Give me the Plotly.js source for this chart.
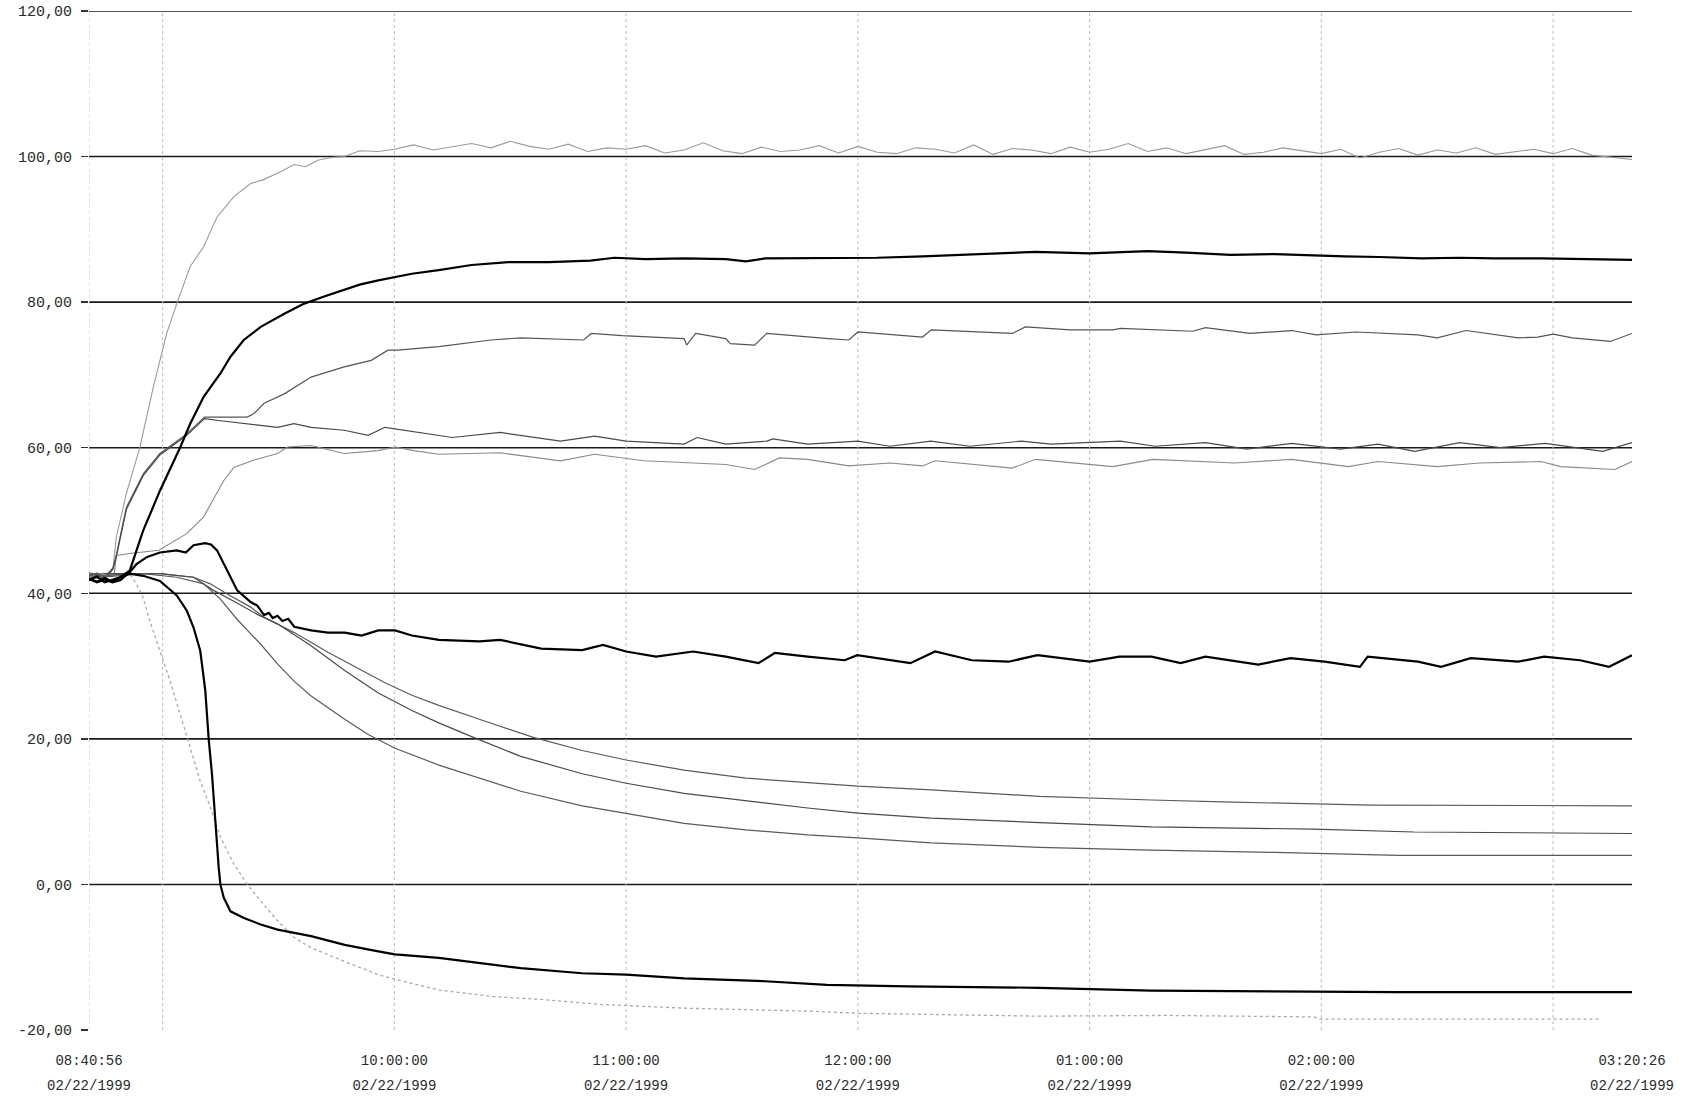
<!DOCTYPE html>
<html>
<head>
<meta charset="utf-8">
<script src="https://cdn.plot.ly/plotly-3.0.1.min.js"></script>
<style>html,body{margin:0;padding:0;background:#fff;}#chart{width:1699px;height:1099px;}</style>
</head>
<body>
<div id="chart"></div>
<script>
// ---------- DATA ----------
const day = "1999-02-22 ";
const xStart = "08:40:56";
const xEnd = "15:20:26";

const yTickVals = [-20, 0, 20, 40, 60, 80, 100, 120];
const yTickLabels = ["-20,00", "0,00", "20,00", "40,00", "60,00", "80,00", "100,00", "120,00"];
const hLineVals = [0, 20, 40, 60, 80, 100, 120];

const xTickTimes = ["08:40:56", "10:00", "11:00", "12:00", "13:00", "14:00", "15:20:26"];
const xTimeLabels = ["08:40:56", "10:00:00", "11:00:00", "12:00:00", "01:00:00", "02:00:00", "03:20:26"];
const xDateLabels = ["02/22/1999", "02/22/1999", "02/22/1999", "02/22/1999", "02/22/1999", "02/22/1999", "02/22/1999"];
const vLineTimes = ["08:40:56", "09:00", "10:00", "11:00", "12:00", "13:00", "14:00", "15:00"];

// A: light grey, settles near 100
const aTime = ["08:40:56","08:43","08:46","08:47:10","08:48","08:50:36","08:54:05","08:57:34","09:01:03","09:03:39","09:07:08","09:10:37","09:14:05","09:18:26","09:22:47","09:26","09:29:44","09:34:05","09:37","09:40:10","09:44","09:47:08","09:51","09:55:50",
"10:00","10:05","10:10","10:15","10:20","10:25","10:30","10:35","10:40","10:45","10:50","10:55",
"11:00","11:05","11:10","11:15","11:20","11:25","11:30","11:35","11:40","11:45","11:50","11:55",
"12:00","12:05","12:10","12:15","12:20","12:25","12:30","12:35","12:40","12:45","12:50","12:55",
"13:00","13:05","13:10","13:15","13:20","13:25","13:30","13:35","13:40","13:45","13:50","13:55",
"14:00","14:05","14:10","14:15","14:20","14:25","14:30","14:35","14:40","14:45","14:50","14:55",
"15:00","15:05","15:10","15:15","15:20:26"];
const aVal = [42.6,42.1,42.8,43.5,47.7,53.7,60.0,68.3,75.7,79.8,84.9,87.6,91.7,94.5,96.3,96.8,97.7,98.9,98.6,99.5,99.9,100.0,100.8,100.7,
101.0,101.6,100.9,101.3,101.8,101.2,102.1,101.4,101.0,101.7,100.7,101.2,
101.0,101.5,100.5,100.9,101.9,100.8,100.4,101.3,100.7,100.9,101.5,100.5,
101.4,100.6,100.4,101.2,101.0,100.5,101.6,100.3,101.1,100.9,100.4,101.3,
100.6,101.0,101.8,100.7,101.2,100.4,100.9,101.5,100.3,100.6,101.2,100.8,
100.4,101.0,99.8,100.6,101.1,100.2,100.9,100.5,101.2,100.3,100.7,101.0,
100.4,101.1,100.2,99.9,99.6];

// B: black, rises to ~86
const bTime = ["08:40:56","08:43","08:45","08:47","08:49","08:51:29","08:54:57","08:59:18","09:04:30","09:07:08","09:10:37","09:14:57","09:17:34","09:21","09:25:24","09:31:30","09:36:40","09:42","09:47:08","09:51","09:55:50","10:04:32","10:11:28","10:20","10:29:30","10:40","10:50:45","10:57","11:05","11:15","11:25:48","11:31","11:36","11:45","11:57:40","12:05","12:16:46","12:29:30","12:46","13:00","13:15","13:25","13:36:30","13:48","13:58:30","14:06","14:15","14:26","14:35:40","14:45","14:57","15:05","15:15","15:20:26"];
const bVal = [41.8,42.3,41.5,41.9,42.2,43.1,48.6,54.1,60.0,63.3,67.0,70.2,72.5,74.8,76.6,78.4,79.8,80.8,81.7,82.4,83.0,83.9,84.4,85.1,85.5,85.5,85.7,86.1,85.9,86.0,85.9,85.6,86.0,86.0,86.0,86.1,86.3,86.6,86.9,86.7,87.0,86.8,86.5,86.6,86.4,86.3,86.2,86.0,86.1,86.0,86.0,85.9,85.8,85.8];

// C: grey, rises to ~75
const cTime = ["08:40:56","08:43","08:45","08:47:09","08:48","08:50:36","08:55","08:59:18","09:06:15","09:10:50","09:21:55","09:23:40","09:26:16","09:31:30","09:38:26","09:47","09:54","09:58:20","10:00:51","10:11:30","10:25","10:32:43","10:49","10:51","10:59","11:15","11:15:40","11:18","11:25:48","11:27","11:33:15","11:36:25","11:52:20","11:57:40","12:00","12:16:46","12:19","12:40","12:43:20","12:55","13:06","13:08","13:26:45","13:30","13:41:30","13:52:20","13:58:40","14:09","14:25","14:30","14:37:30","14:51","14:56","15:00","15:05","15:14:50","15:20:26"];
const cVal = [42.3,42.8,42.2,43.5,45.2,51.8,56.4,59.2,61.9,64.2,64.2,64.7,66.1,67.4,69.7,71.1,72.0,73.4,73.4,73.9,74.8,75.1,74.8,75.7,75.4,75.0,74.1,75.7,75.0,74.3,74.1,75.7,75.0,74.8,75.9,75.2,76.2,75.7,76.6,76.2,76.2,76.4,76.0,76.5,75.7,76.1,75.5,75.9,75.5,75.1,76.1,75.1,75.2,75.6,75.1,74.6,75.7];

// D: grey, peaks ~64 then ~60
const dTime = ["08:40:56","08:43","08:45","08:47:09","08:48","08:50:36","08:55","08:59:18","09:06:15","09:10:50","09:15","09:21","09:29:45","09:34","09:38:26","09:47","09:53:13","09:57:34","10:04:32","10:09:30","10:15","10:27:24","10:43","10:51:50","11:00","11:15","11:18:23","11:25:48","11:36:25","11:38","11:47","12:00","12:08:17","12:18:53","12:29","12:42:22","12:50","13:08","13:17","13:30","13:40:45","13:52:20","14:05","14:14:40","14:24:10","14:35:50","14:46:20","14:58","15:12:50","15:20:26"];
const dVal = [42.0,42.5,42.0,43.3,45.0,51.5,56.2,59.0,61.7,64.0,63.7,63.3,62.8,63.3,62.8,62.4,61.7,62.8,62.2,61.8,61.4,62.1,60.9,61.6,60.9,60.5,61.4,60.5,60.9,61.2,60.5,60.9,60.2,60.9,60.2,60.9,60.5,60.9,60.2,60.7,59.8,60.6,59.8,60.5,59.5,60.7,60.0,60.6,59.5,60.7];

// E: lighter grey, rises to ~60 then ~57.5
const eTime = ["08:40:56","08:43","08:45","08:47:30","08:48","08:52","08:59","09:06:15","09:10:37","09:14","09:15:50","09:18:26","09:23:40","09:29:45","09:32:20","09:38:26","09:47","09:55:50","10:00:10","10:05","10:11:30","10:27:24","10:43","10:51:50","11:04:35","11:25:48","11:33:15","11:39:40","11:47","11:57:40","12:08:17","12:16:46","12:20","12:40","12:46","13:06","13:16:25","13:37:30","13:52:20","14:07","14:14:40","14:30","14:41","14:56:50","15:02","15:16","15:20:26"];
const eVal = [42.6,42.0,42.2,42.8,45.2,45.5,45.9,48.2,50.5,53.7,55.5,57.3,58.3,59.2,60.1,60.3,59.2,59.6,60.1,59.6,59.1,59.3,58.2,59.1,58.2,57.7,57.0,58.6,58.4,57.5,57.9,57.5,58.2,57.2,58.4,57.4,58.4,57.9,58.4,57.4,58.1,57.4,57.9,58.1,57.4,57.0,58.1];

// F: black, peaks ~47 then ~31
const fTime = ["08:40:56","08:43","08:45","08:47","08:49","08:51:29","08:53:13","08:56","08:59:18","09:03:39","09:06","09:08","09:11","09:12:30","09:14:05","09:16:42","09:19:18","09:22:47","09:24:30","09:26:16","09:27:30","09:28:30","09:29:44","09:31","09:32:30","09:34:05","09:38:26","09:42:47","09:47:08","09:51:30","09:55:50","10:00:10","10:04:32","10:11:30","10:22","10:27:24","10:38","10:48:38","10:54","11:00","11:07:45","11:17:20","11:25:48","11:34:16","11:38:30","11:47","11:56:36","11:59:50","12:08:17","12:13:35","12:20","12:29:30","12:39","12:46:30","13:00","13:07:45","13:16","13:23:35","13:30","13:43:40","13:52","14:00:50","14:10","14:12","14:25","14:31","14:38:40","14:51","14:57:40","15:07","15:14:30","15:20:26"];
const fVal = [42.0,41.5,41.9,41.5,41.8,42.9,44.0,45.0,45.6,45.9,45.6,46.6,46.9,46.7,45.9,43.1,40.4,38.8,38.3,37.0,37.3,36.6,36.9,36.2,36.5,35.4,34.9,34.6,34.6,34.2,34.9,34.9,34.2,33.6,33.4,33.6,32.4,32.2,32.9,32.0,31.3,32.0,31.3,30.4,31.8,31.3,30.8,31.5,30.8,30.4,32.0,30.8,30.6,31.5,30.6,31.3,31.3,30.4,31.3,30.2,31.1,30.6,29.9,31.3,30.6,29.9,31.1,30.6,31.3,30.8,29.9,31.5];

// G1, G2, G3: grey, slow decay
const g1Time = ["08:40:56","08:45","08:51","08:59:18","09:08","09:12:20","09:16:42","09:22:47","09:26:16","09:34:05","09:42:47","09:51:30","09:57:34","10:04:32","10:11:30","10:22","10:36","10:48:38","11:00","11:15","11:31","11:47","12:00","12:19","12:35","12:47","13:16","13:37","14:13","14:51","15:20:26"];
const g1Val = [42.8,42.4,42.7,42.7,42.2,41.3,39.9,38.1,36.7,34.6,31.9,29.4,27.7,26.0,24.6,22.7,20.2,18.4,17.1,15.7,14.6,14.0,13.5,13.0,12.5,12.1,11.6,11.3,10.9,10.9,10.8];

const g2Time = ["08:40:56","08:45","08:51","08:59:18","09:08","09:13:10","09:18:26","09:24:30","09:29:44","09:38:26","09:47:08","09:55:50","10:04:32","10:11:30","10:20","10:32:43","10:48:38","11:00","11:15","11:31","11:47","12:00","12:19","12:47","13:16","13:58","14:24","15:20:26"];
const g2Val = [42.5,42.7,42.7,42.7,42.2,40.4,38.9,37.1,35.8,32.8,29.4,26.3,23.9,22.2,20.3,17.6,15.2,13.9,12.5,11.5,10.5,9.8,9.1,8.5,7.9,7.6,7.2,7.0];

const g3Time = ["08:40:56","08:46","08:54:57","09:03:39","09:10:37","09:14:57","09:19:18","09:25:24","09:29:44","09:34:05","09:38:26","09:47:08","09:53:13","10:00:10","10:11:30","10:22","10:32:43","10:48:38","11:00","11:15","11:31","11:47","12:00","12:19","12:47","13:16","13:48","14:20","15:20:26"];
const g3Val = [42.6,42.3,42.7,42.2,41.3,39.2,36.4,33.0,30.3,27.9,25.9,22.7,20.6,18.7,16.4,14.6,12.8,10.8,9.8,8.4,7.5,6.8,6.4,5.7,5.1,4.7,4.4,4.0,4.0];

// H: black, sharp drop to ~-15
const hTime = ["08:40:56","08:43","08:45","08:47","08:49","08:51:29","08:54:57","08:59:18","09:03:39","09:06:16","09:08","09:09:44","09:11:03","09:11:55","09:12:47","09:13:39","09:14:31","09:14:57","09:15:49","09:17:34","09:21:03","09:25:24","09:29:45","09:38:26","09:47:08","09:55:50","10:00:10","10:11:30","10:22","10:32:43","10:48:38","11:00","11:15","11:36","11:52","12:13","12:47","13:16","14:19","15:20:26"];
const hVal = [42.0,41.6,42.1,41.6,42.2,42.7,42.4,41.7,39.7,37.6,35.3,32.1,26.6,20.0,15.1,8.3,2.3,0.0,-1.8,-3.7,-4.6,-5.5,-6.2,-7.1,-8.3,-9.2,-9.6,-10.1,-10.8,-11.5,-12.2,-12.4,-12.9,-13.3,-13.8,-14.0,-14.2,-14.6,-14.8,-14.8];

// I: light grey dotted, drop to ~-18
const iTime = ["08:40:56","08:46","08:51:29","08:53:13","08:54:57","08:56:41","08:59:18","09:01:55","09:04:31","09:07:08","09:09:44","09:12:21","09:14:57","09:18:26","09:21:55","09:25:24","09:29:45","09:34:05","09:38:26","09:47:08","09:55:50","10:04:32","10:11:30","10:25:17","10:38","10:54","11:15","11:47","12:00","12:47","13:20","13:58","14:00","15:12"];
const iVal = [42.3,42.5,42.7,41.3,39.4,36.2,32.1,28.0,23.4,18.8,14.2,10.6,6.5,2.8,0.0,-2.3,-5.0,-7.3,-8.7,-10.6,-12.4,-13.6,-14.5,-15.4,-15.8,-16.5,-17.0,-17.4,-17.7,-18.1,-18.0,-18.2,-18.5,-18.5];

// ---------- BUILD ----------
const toX = arr => arr.map(t => day + (t.length === 5 ? t + ":00" : t));

function line(times, vals, color, width, dash) {
  return {
    type: "scatter", mode: "lines",
    x: toX(times), y: vals,
    line: {color: color, width: width, dash: dash || "solid"},
    hoverinfo: "x+y", showlegend: false
  };
}

const traces = [
  line(iTime, iVal, "#a8a8a8", 1.3, "dot"),
  line(aTime, aVal, "#9a9a9a", 1.1),
  line(eTime, eVal, "#8a8a8a", 1.1),
  line(cTime, cVal, "#555555", 1.2),
  line(dTime, dVal, "#4a4a4a", 1.2),
  line(g1Time, g1Val, "#5a5a5a", 1.2),
  line(g2Time, g2Val, "#4a4a4a", 1.2),
  line(g3Time, g3Val, "#5a5a5a", 1.2),
  line(bTime, bVal, "#000000", 2.2),
  line(fTime, fVal, "#000000", 2.2),
  line(hTime, hVal, "#000000", 2.2),
  {type: "scatter", mode: "lines", x: [], y: [], xaxis: "x2", yaxis: "y", showlegend: false, hoverinfo: "skip"}
];

const shapes = [];
hLineVals.forEach(v => shapes.push({
  type: "line", xref: "paper", x0: 0, x1: 1, yref: "y", y0: v, y1: v,
  line: {color: "#1a1a1a", width: 1.6}, layer: "below"
}));
toX(vLineTimes).forEach(t => shapes.push({
  type: "line", xref: "x", x0: t, x1: t, yref: "paper", y0: 0, y1: 1,
  line: {color: "#bdbdbd", width: 1, dash: "dot"}, layer: "below"
}));

const tickFont = {family: "Liberation Mono, DejaVu Sans Mono, monospace", size: 14, color: "#2a2a2a"};
const xRange = [day + xStart, day + xEnd];

const layout = {
  width: 1699, height: 1099,
  margin: {l: 89, r: 67, t: 11, b: 69, pad: 0},
  paper_bgcolor: "#ffffff", plot_bgcolor: "#ffffff",
  showlegend: false,
  xaxis: {
    type: "date", range: xRange, fixedrange: true,
    tickmode: "array", tickvals: toX(xTickTimes), ticktext: xTimeLabels,
    showgrid: false, zeroline: false, showline: false, ticks: "",
    ticklabelstandoff: 20, tickfont: tickFont
  },
  xaxis2: {
    type: "date", range: xRange, overlaying: "x", anchor: "y", side: "bottom",
    tickmode: "array", tickvals: toX(xTickTimes), ticktext: xDateLabels,
    showgrid: false, zeroline: false, showline: false, ticks: "",
    ticklabelstandoff: 45, tickfont: tickFont
  },
  yaxis: {
    range: [-20, 120], fixedrange: true,
    tickmode: "array", tickvals: yTickVals, ticktext: yTickLabels,
    showgrid: false, zeroline: false, showline: false,
    ticks: "outside", ticklen: 7, tickwidth: 1.5, tickcolor: "#333",
    ticklabelstandoff: 6,
    tickfont: {family: "Liberation Mono, DejaVu Sans Mono, monospace", size: 15, color: "#2a2a2a"}
  },
  shapes: shapes
};

Plotly.newPlot("chart", traces, layout, {displayModeBar: false, staticPlot: true});
</script>
</body>
</html>
